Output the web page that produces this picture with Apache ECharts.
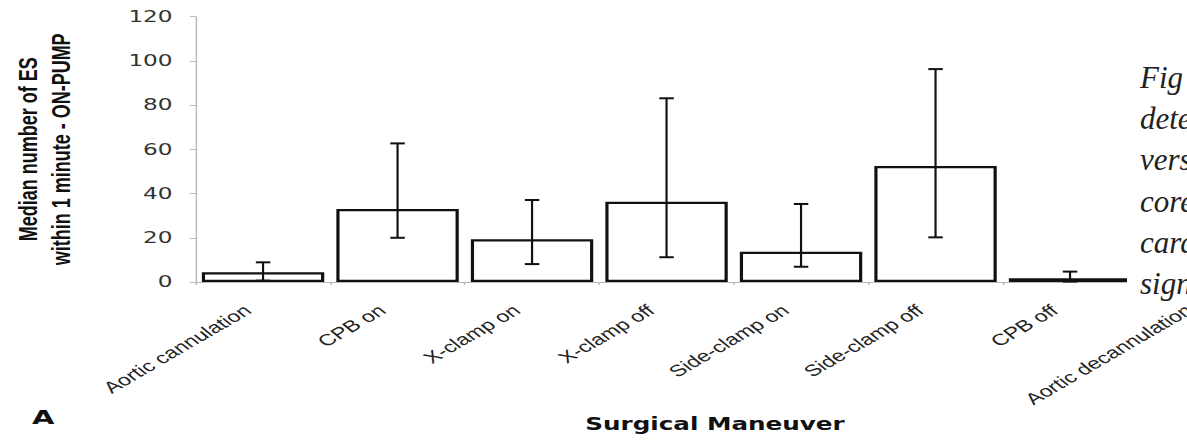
<!DOCTYPE html>
<html>
<head>
<meta charset="utf-8">
<script src="https://cdn.jsdelivr.net/npm/echarts@6/dist/echarts.min.js"></script>
<style>
  html, body { margin: 0; padding: 0; background: #fff; }
  #wrap { position: relative; width: 1187px; height: 440px; overflow: hidden; background: #fff; }
  #main { position: absolute; left: 0; top: 0; width: 819px; height: 440px; transform: scaleX(1.449328); transform-origin: 0 0; }
  #cap { position: absolute; left: 1127px; top: 0; width: 60px; height: 302px; }
</style>
</head>
<body>
<div id="wrap">
  <div id="main"></div>
  <div id="cap"></div>
</div>
<script>
// ---- data ----
const categories = ['Aortic cannulation', 'CPB on', 'X-clamp on', 'X-clamp off', 'Side-clamp on', 'Side-clamp off', 'CPB off', 'Aortic decannulation'];
const medians = [4.4, 33, 19.3, 36.3, 13.7, 52.5, 1.7, 2];
const errLow = [0.6, 20, 8.1, 11.2, 6.9, 20.2, 0.2, 0.5];
const errHigh = [8.9, 62.7, 37.1, 83.1, 35.3, 96.3, 4.7, 5];
const yTicks = [0, 20, 40, 60, 80, 100, 120];
const yTitle = ['Median number of ES', 'within 1 minute - ON-PUMP'];
const xTitle = 'Surgical Maneuver';
const panelLabel = 'A';
const captionLines = ['Fig', 'dete', 'vers', 'core', 'card', 'sign'];

const chart = echarts.init(document.getElementById('main'), null, { renderer: 'svg' });

const errData = categories.map((c, i) => [i, errLow[i], errHigh[i]]);

chart.setOption({
  backgroundColor: '#fff',
  animation: false,
  grid: { left: 135.1, top: 16.7, width: 742.4, height: 265.3, outerBoundsMode: 'none' },
  graphic: [{
    type: 'text', left: 22, top: 407,
    style: { text: panelLabel, fontFamily: 'DejaVu Sans', fontWeight: 'bold', fontSize: 20, fill: '#111' }
  }],
  xAxis: {
    type: 'category',
    data: categories,
    name: xTitle,
    nameLocation: 'middle',
    nameGap: 133,
    nameTextStyle: { fontFamily: 'DejaVu Sans', fontWeight: 'bold', fontSize: 17, color: '#111', padding: [0, 26, 0, 0] },
    axisLine: { show: true, lineStyle: { color: '#b8b8b8', width: 1 } },
    axisTick: { show: true, length: 3, lineStyle: { color: '#b8b8b8' } },
    axisLabel: { interval: 0, rotate: 40, margin: 17, padding: [0, 14, 7, 0], fontFamily: 'Liberation Sans', fontSize: 16, color: '#222' }
  },
  yAxis: {
    type: 'value',
    min: yTicks[0],
    max: yTicks[yTicks.length - 1],
    interval: yTicks[1] - yTicks[0],
    name: yTitle.join('\n'),
    nameLocation: 'middle',
    nameGap: 81,
    nameTextStyle: { fontFamily: 'Liberation Sans', fontWeight: 'bold', fontSize: 18, lineHeight: 23, color: '#111' },
    axisLine: { show: true, lineStyle: { color: '#b8b8b8', width: 1 } },
    axisTick: { show: true, length: 4, lineStyle: { color: '#b8b8b8' } },
    splitLine: { show: false },
    axisLabel: { margin: 16, fontFamily: 'DejaVu Sans', fontSize: 16, color: '#333' }
  },
  series: [
    {
      type: 'bar',
      data: medians,
      barCategoryGap: '9%',
      itemStyle: { color: '#fff', borderColor: '#111', borderWidth: 2.2 },
      z: 2
    },
    {
      type: 'custom',
      data: errData,
      encode: { x: 0, y: [1, 2] },
      z: 3,
      renderItem: function (params, api) {
        const x = api.value(0);
        const pLo = api.coord([x, api.value(1)]);
        const pHi = api.coord([x, api.value(2)]);
        const hw = 5;
        const st = { stroke: '#111', lineWidth: 2 };
        return {
          type: 'group',
          children: [
            { type: 'line', shape: { x1: pLo[0], y1: pLo[1], x2: pHi[0], y2: pHi[1] }, style: { stroke: '#111', lineWidth: 1.5 } },
            { type: 'line', shape: { x1: pHi[0] - hw, y1: pHi[1], x2: pHi[0] + hw, y2: pHi[1] }, style: st },
            { type: 'line', shape: { x1: pLo[0] - hw, y1: pLo[1], x2: pLo[0] + hw, y2: pLo[1] }, style: st }
          ]
        };
      }
    }
  ]
});

// caption fragment of the page overlapping the figure on the right
const cap = echarts.init(document.getElementById('cap'), null, { renderer: 'svg' });
const capBaselines = [87, 128, 169, 211, 252, 293];
cap.setOption({
  animation: false,
  graphic: [{ type: 'rect', shape: { x: 0, y: 0, width: 60, height: 289 }, style: { fill: '#fff' } }].concat(
    captionLines.map((t, i) => ({
      type: 'text',
      x: 13,
      y: capBaselines[i] - 10,
      style: { text: t, fontFamily: 'Liberation Serif', fontStyle: 'italic', fontSize: 31, fill: '#222', verticalAlign: 'middle' }
    }))
  )
});
</script>
</body>
</html>
